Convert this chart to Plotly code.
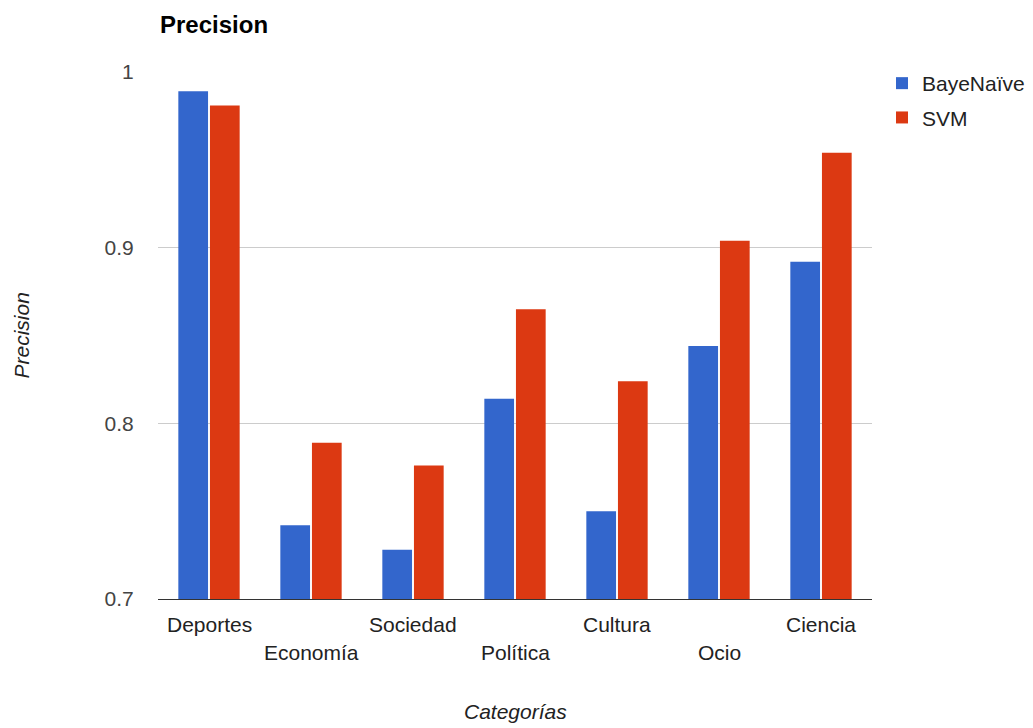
import plotly.graph_objects as go

categories = ["Deportes", "Economía", "Sociedad", "Política", "Cultura", "Ocio", "Ciencia"]
bayes_naive = [0.989, 0.742, 0.728, 0.814, 0.750, 0.844, 0.892]
svm = [0.981, 0.789, 0.776, 0.865, 0.824, 0.904, 0.954]
y_tick_vals = [0.7, 0.8, 0.9, 1.0]
y_tick_text = ["0.7", "0.8", "0.9", "1"]

FONT = "Liberation Sans, Arial, sans-serif"

fig = go.Figure()
fig.add_trace(go.Bar(name="BayeNaïve", x=categories, y=bayes_naive, legendgroup="a",
                     marker=dict(color="#3366cc", line=dict(width=0))))
fig.add_trace(go.Bar(name="SVM", x=categories, y=svm, legendgroup="b",
                     marker=dict(color="#dc3912", line=dict(width=0))))

annotations = []
for i, c in enumerate(categories):
    annotations.append(dict(
        x=c, xref="x", y=0, yref="paper", text=c, showarrow=False,
        yanchor="middle", xanchor="center", yshift=-25 if i % 2 == 0 else -53,
        font=dict(family=FONT, size=21, color="#222222")))
annotations.append(dict(
    x=0.5, xref="paper", y=0, yref="paper", text="<i>Categorías</i>", showarrow=False,
    yanchor="middle", xanchor="center", yshift=-112,
    font=dict(family=FONT, size=21, color="#222222")))
annotations.append(dict(
    x=0, xref="paper", y=0.5, yref="paper", text="<i>Precision</i>", showarrow=False,
    textangle=-90, xanchor="center", yanchor="middle", xshift=-137,
    font=dict(family=FONT, size=21, color="#222222")))

fig.update_layout(
    width=1033, height=728,
    margin=dict(l=158, r=161, t=72, b=129, autoexpand=False),
    paper_bgcolor="white", plot_bgcolor="white",
    font=dict(family=FONT, size=21, color="#444444"),
    title=dict(text="<b>Precision</b>", x=160 / 1033, xanchor="left", xref="container",
               y=1 - 25 / 728, yanchor="middle", yref="container",
               font=dict(family=FONT, size=24, color="#000000")),
    barmode="group", bargap=0.38, bargroupgap=0.06,
    showlegend=True,
    legend=dict(x=882 / 1033, xanchor="left", xref="container",
                y=1 - 63 / 728, yanchor="top", yref="container",
                font=dict(family=FONT, size=21, color="#222222"),
                bgcolor="rgba(0,0,0,0)", tracegroupgap=4),
    annotations=annotations,
    xaxis=dict(showticklabels=False, showgrid=False, showline=True,
               linecolor="#333333", linewidth=1, ticks=""),
    yaxis=dict(range=[0.7, 1.0], tickvals=y_tick_vals, ticktext=y_tick_text,
               showgrid=True, gridcolor="#cccccc", gridwidth=1, zeroline=False,
               ticks="outside", ticklen=19, tickcolor="rgba(0,0,0,0)",
               tickfont=dict(family=FONT, size=21, color="#444444")),
)

fig.write_html("out.html")
